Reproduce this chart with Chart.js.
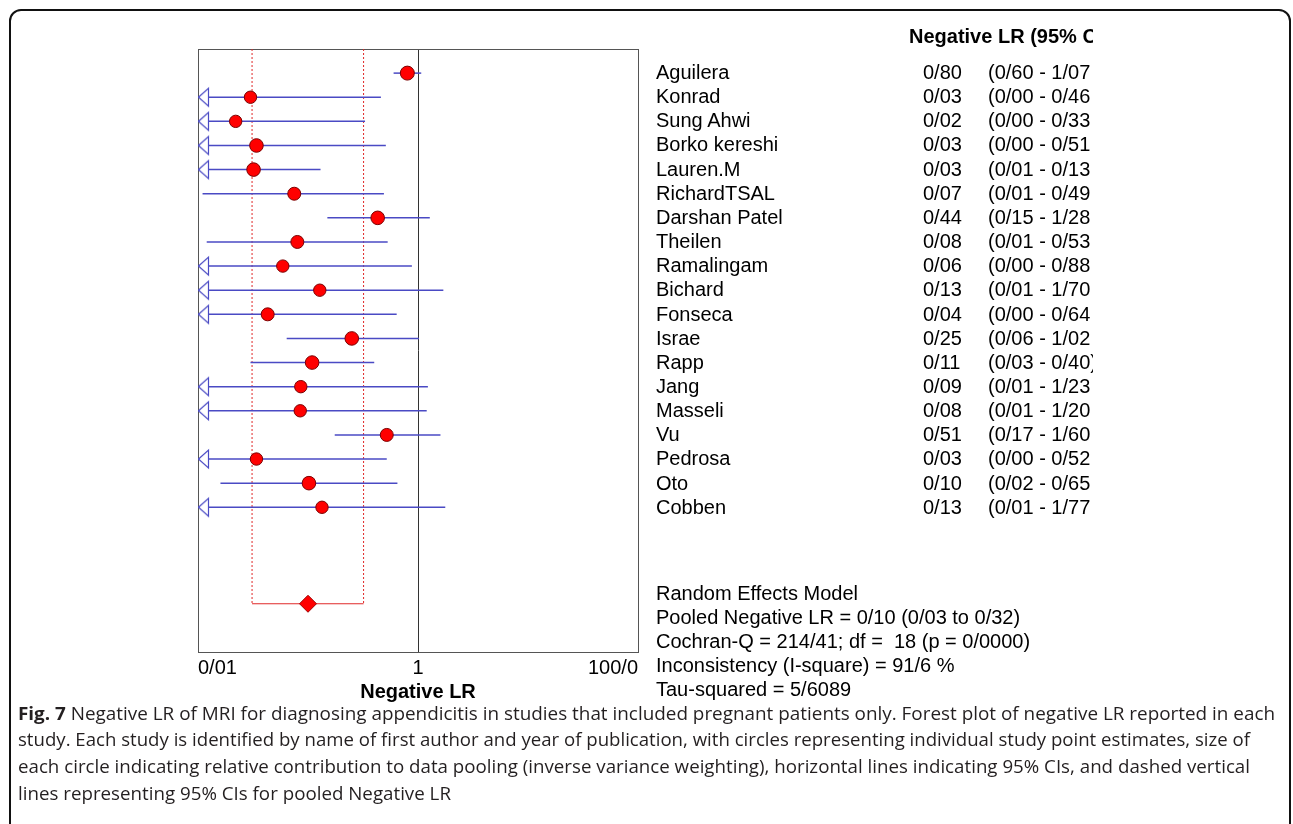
<!DOCTYPE html>
<html>
<head>
<meta charset="utf-8">
<script src="https://cdn.jsdelivr.net/npm/chart.js@4/dist/chart.umd.min.js"></script>
<style>
html,body{margin:0;padding:0;background:#fff;width:1293px;height:824px;overflow:hidden;}
#frame{position:absolute;left:9px;top:9px;width:1282px;height:900px;border:2px solid #111;border-radius:12px;box-sizing:border-box;}
#chart{position:absolute;left:0;top:0;}
.t{position:absolute;font-family:"Liberation Sans",Arial,sans-serif;font-size:20px;color:#000;white-space:pre;line-height:24px;height:24px;}
#tbl{position:absolute;left:0;top:0;width:1093px;height:824px;overflow:hidden;}
.cap{position:absolute;left:18px;font-family:"Open Sans",sans-serif;font-size:17.5px;color:#231f20;white-space:pre;line-height:27px;transform-origin:0 50%;}
</style>
</head>
<body>
<div id="frame"></div>
<canvas id="chart" width="1293" height="824"></canvas>
<div id="tbl"></div>
<div id="caption"></div>
<script>
// ---------- data ----------
const studies = ["Aguilera","Konrad","Sung Ahwi","Borko kereshi","Lauren.M","RichardTSAL","Darshan Patel","Theilen","Ramalingam","Bichard","Fonseca","Israe","Rapp","Jang","Masseli","Vu","Pedrosa","Oto","Cobben"];
const lrPoint = [0.80,0.030,0.022,0.034,0.032,0.075,0.43,0.080,0.059,0.128,0.043,0.25,0.109,0.086,0.085,0.52,0.034,0.102,0.134];
const ciLower = [0.60,0.003,0.003,0.003,0.006,0.011,0.15,0.012,0.003,0.007,0.003,0.064,0.030,0.007,0.007,0.175,0.003,0.016,0.007];
const ciUpper = [1.07,0.46,0.33,0.51,0.13,0.49,1.28,0.53,0.88,1.70,0.64,1.02,0.40,1.23,1.20,1.60,0.52,0.65,1.77];
const markerRadius = [7.5,6.7,6.7,7.3,7.3,7,7.3,7,6.7,6.7,7,7.3,7.3,6.7,6.7,7,6.7,7.3,6.7];
const lrText = ["0/80","0/03","0/02","0/03","0/03","0/07","0/44","0/08","0/06","0/13","0/04","0/25","0/11","0/09","0/08","0/51","0/03","0/10","0/13"];
const ciText = ["(0/60 - 1/07","(0/00 - 0/46","(0/00 - 0/33","(0/00 - 0/51","(0/01 - 0/13","(0/01 - 0/49","(0/15 - 1/28","(0/01 - 0/53","(0/00 - 0/88","(0/01 - 1/70","(0/00 - 0/64","(0/06 - 1/02","(0/03 - 0/40)","(0/01 - 1/23","(0/01 - 1/20","(0/17 - 1/60","(0/00 - 0/52","(0/02 - 0/65","(0/01 - 1/77"];
const pooledEstimate = [0.10];
const pooledInterval = [0.031, 0.32];
const pooledRow = 22;
const xTickValues = [0.01, 1, 100];
const xTickLabels = ["0/01", "1", "100/0"];
const headerText = "Negative LR (95% C";
const summaryText = ["Random Effects Model","Pooled Negative LR = 0/10 (0/03 to 0/32)","Cochran-Q = 214/41; df =  18 (p = 0/0000)","Inconsistency (I-square) = 91/6 %","Tau-squared = 5/6089"];
const captionLines = [
  "<b>Fig. 7</b> Negative LR of MRI for diagnosing appendicitis in studies that included pregnant patients only. Forest plot of negative LR reported in each",
  "study. Each study is identified by name of first author and year of publication, with circles representing individual study point estimates, size of",
  "each circle indicating relative contribution to data pooling (inverse variance weighting), horizontal lines indicating 95% CIs, and dashed vertical",
  "lines representing 95% CIs for pooled Negative LR"
];
const captionWidths = [1257, 1232, 1232];

// ---------- styling ----------
const BLUE = "#4a4ac4";
const RED = "#ff0000";
const DARKRED = "#7a0000";
const AXMIN = 0.01, AXMAX = 100;
const yMin = -1, yMax = 24;

// arrow marker (open triangle pointing left, tip at the centre)
const arrow = document.createElement("canvas");
arrow.width = 24; arrow.height = 22;
(function(){
  const c = arrow.getContext("2d");
  c.beginPath();
  c.moveTo(12.5, 11);
  c.lineTo(22.5, 2);
  c.lineTo(22.5, 20);
  c.closePath();
  c.fillStyle = "#fff"; c.fill();
  c.strokeStyle = BLUE; c.lineWidth = 1.2; c.stroke();
})();

const datasets = [];
datasets.push({
  label: "studies", order: 1,
  data: lrPoint.map((v, i) => ({x: v, y: i})),
  pointRadius: markerRadius.map(r => r - 0.5),
  pointBackgroundColor: RED, pointBorderColor: DARKRED, pointBorderWidth: 1,
  showLine: false
});
datasets.push({
  label: "pooled", order: 1,
  data: pooledEstimate.map(v => ({x: v, y: pooledRow})),
  pointStyle: "rectRot", pointRadius: 8.5,
  pointBackgroundColor: RED, pointBorderColor: "#a00000", pointBorderWidth: 1,
  showLine: false
});
const arrowRows = [];
ciLower.forEach((v, i) => { if (v < AXMIN) arrowRows.push(i); });
datasets.push({
  label: "arrows", order: 2,
  data: arrowRows.map(i => ({x: AXMIN, y: i})),
  pointStyle: arrow, pointRadius: 5,
  showLine: false
});
studies.forEach((s, i) => {
  datasets.push({
    label: "ci" + i, order: 3,
    data: [{x: Math.max(ciLower[i], AXMIN), y: i}, {x: Math.min(ciUpper[i], AXMAX), y: i}],
    showLine: true, borderColor: BLUE, borderWidth: 1.5, pointRadius: 0
  });
});
pooledInterval.forEach((v, k) => {
  datasets.push({
    label: "pooledCI" + k, order: 4,
    data: [{x: v, y: yMin}, {x: v, y: pooledRow}],
    showLine: true, borderColor: "#e02828", borderWidth: 1, borderDash: [2, 2], pointRadius: 0
  });
});
datasets.push({
  label: "pooledBase", order: 4,
  data: pooledInterval.map(v => ({x: v, y: pooledRow})),
  showLine: true, borderColor: "#e02828", borderWidth: 1, pointRadius: 0
});

const boxPlugin = {
  id: "box",
  beforeDatasetsDraw(chart) {
    const {ctx, chartArea: a} = chart;
    ctx.save();
    ctx.strokeStyle = "#555";
    ctx.lineWidth = 1;
    ctx.strokeRect(Math.round(a.left) + 0.5, Math.round(a.top) + 0.5, Math.round(a.right - a.left), Math.round(a.bottom - a.top));
    ctx.restore();
  }
};

new Chart(document.getElementById("chart"), {
  type: "scatter",
  data: {datasets},
  plugins: [boxPlugin],
  options: {
    responsive: false, animation: false, devicePixelRatio: 1,
    layout: {padding: {left: 198, right: 655, top: 49, bottom: 92}},
    plugins: {legend: {display: false}, tooltip: {enabled: false}},
    scales: {
      x: {
        type: "logarithmic", min: AXMIN, max: AXMAX,
        afterBuildTicks: s => { s.ticks = xTickValues.map(v => ({value: v})); },
        afterFit: s => { s.height = 80; },
        ticks: {
          autoSkip: false, maxRotation: 0, align: "inner", padding: 4,
          color: "#000", font: {family: "'Liberation Sans', Arial, sans-serif", size: 20},
          callback: (v, i) => xTickLabels[i]
        },
        grid: {
          drawTicks: false,
          color: c => (c.tick && c.tick.value === 1) ? "#333" : "rgba(0,0,0,0)",
          lineWidth: 1
        },
        border: {display: false},
        title: {display: true, text: "Negative LR", color: "#000",
          font: {family: "'Liberation Sans', Arial, sans-serif", size: 20, weight: "bold"},
          padding: {top: 0, bottom: 28}}
      },
      y: {type: "linear", min: yMin, max: yMax, reverse: true, display: false}
    }
  }
});

// ---------- right-hand table ----------
const tbl = document.getElementById("tbl");
function addText(txt, x, yc, bold) {
  const d = document.createElement("div");
  d.className = "t";
  d.textContent = txt;
  d.style.left = x + "px";
  d.style.top = (yc - 12) + "px";
  if (bold) d.style.fontWeight = "bold";
  tbl.appendChild(d);
}
const rowY = i => 72 + 24.15 * i;
addText(headerText, 909, 36, true);
studies.forEach((s, i) => {
  addText(s, 656, rowY(i));
  addText(lrText[i], 923, rowY(i));
  addText(ciText[i], 988, rowY(i));
});
summaryText.forEach((s, k) => addText(s, 656, 593 + 24 * k));

// ---------- caption ----------
const cap = document.getElementById("caption");
const capEls = captionLines.map((html, k) => {
  const d = document.createElement("div");
  d.className = "cap";
  d.innerHTML = html;
  d.style.top = (713 - 13.5 + 26.8 * k) + "px";
  cap.appendChild(d);
  return d;
});
let sSum = 0;
captionWidths.forEach((w, k) => { sSum += w / capEls[k].getBoundingClientRect().width; });
const capScale = sSum / captionWidths.length;
capEls.forEach((d, k) => {
  const sc = k < captionWidths.length ? captionWidths[k] / d.getBoundingClientRect().width : capScale;
  d.style.transform = "scaleX(" + sc.toFixed(4) + ")";
});
</script>
</body>
</html>
